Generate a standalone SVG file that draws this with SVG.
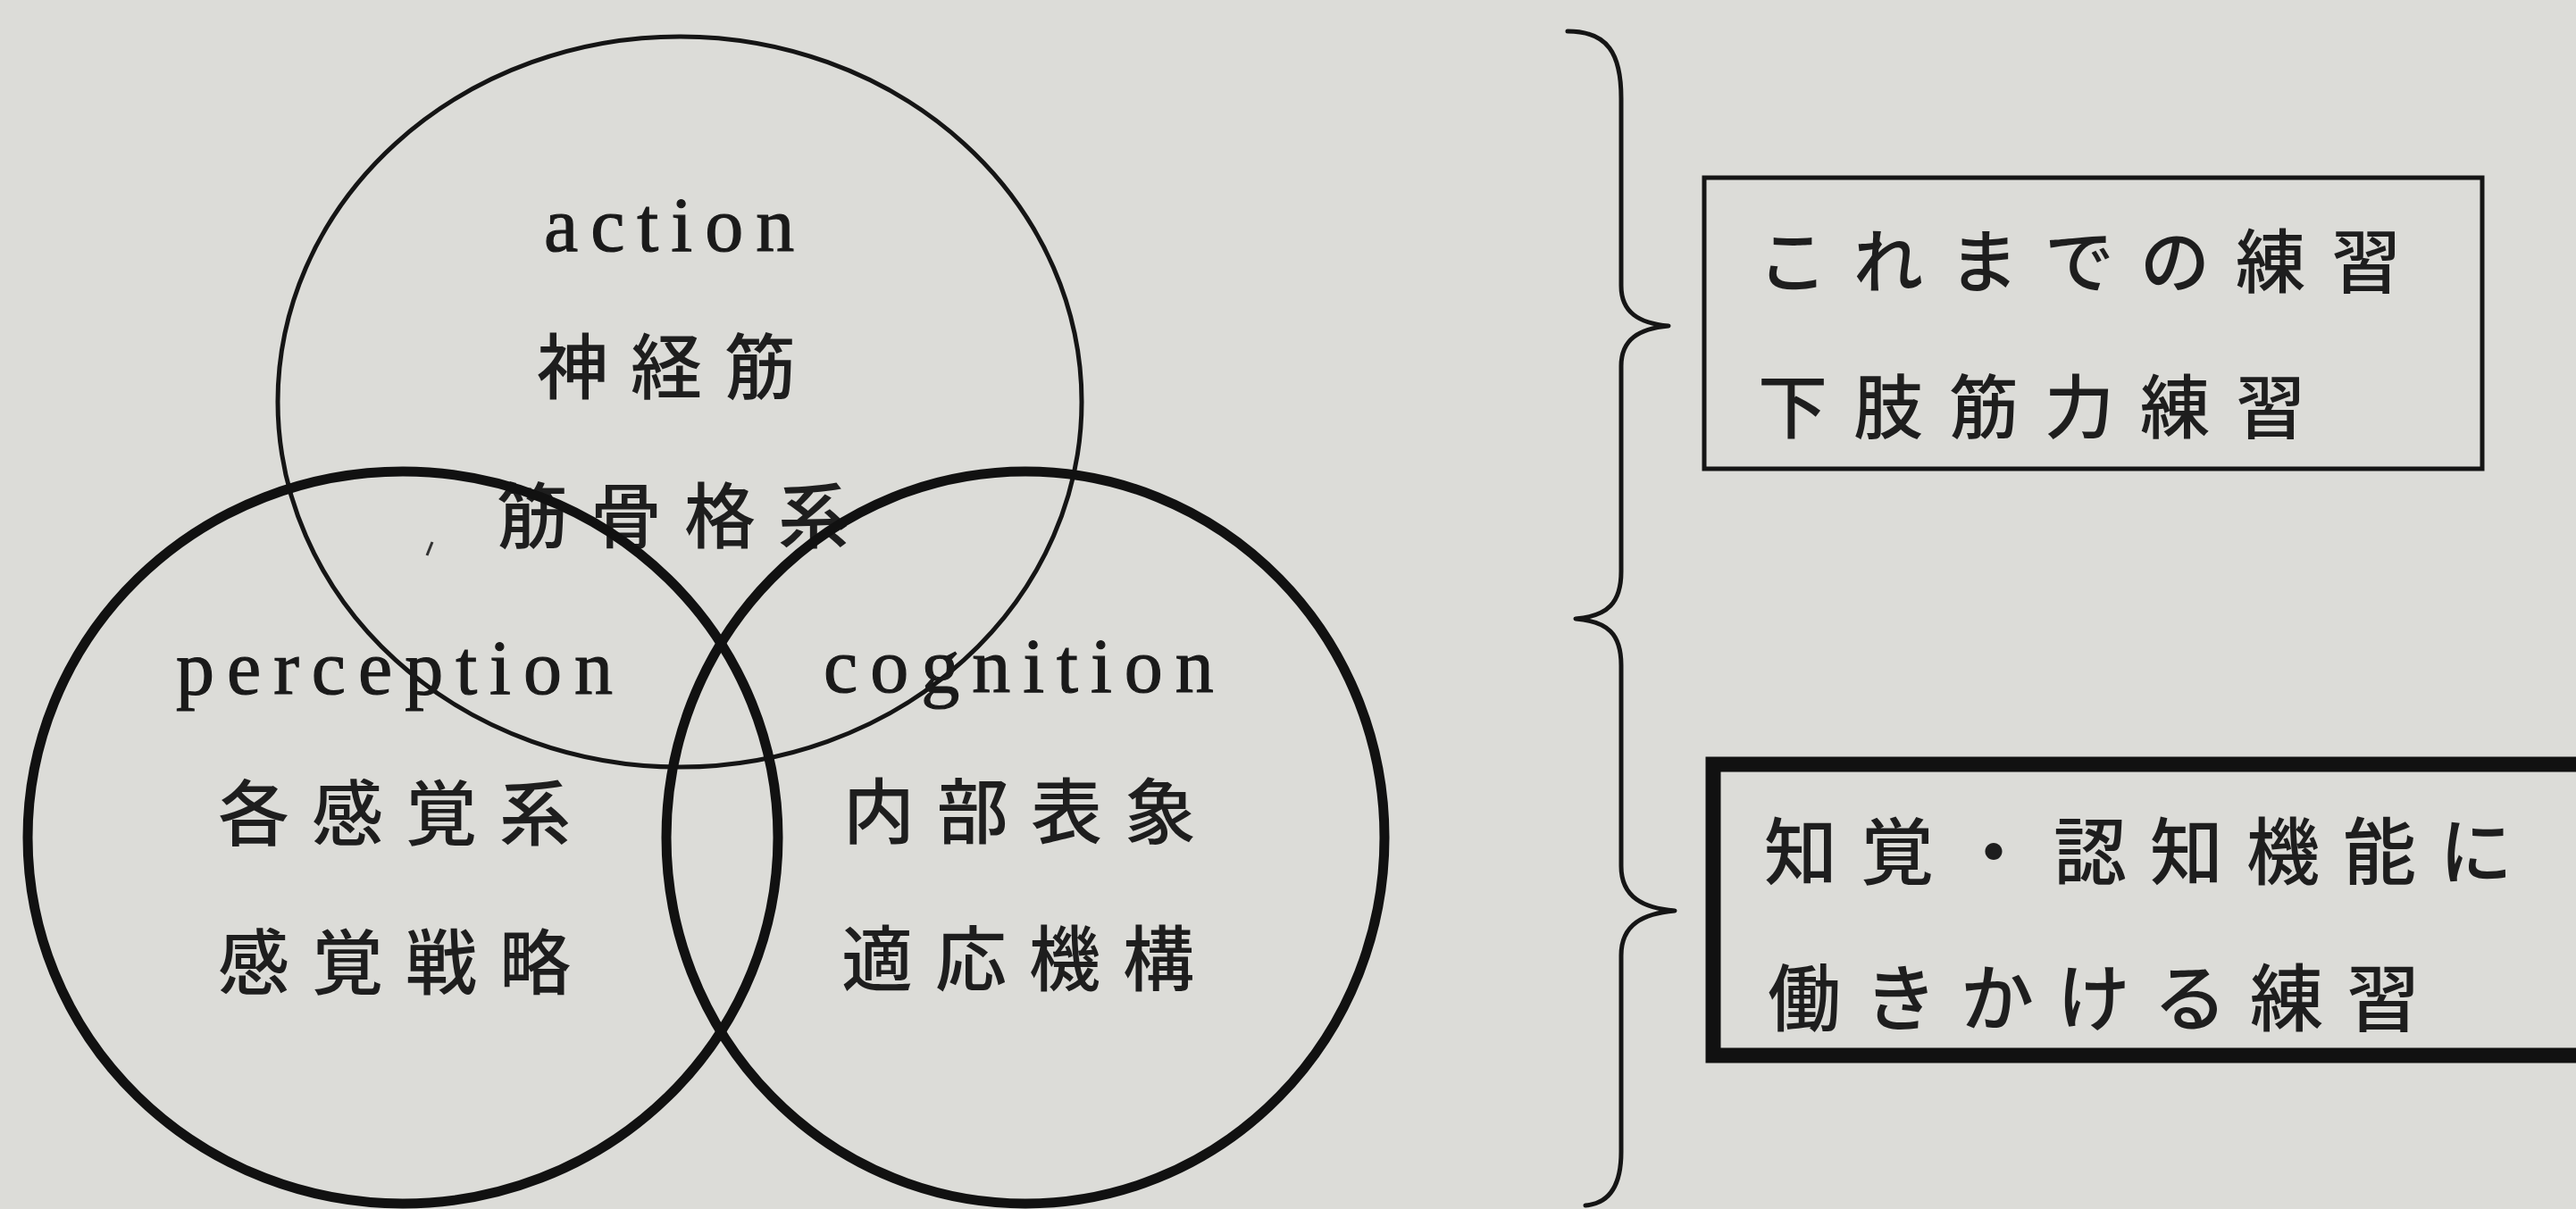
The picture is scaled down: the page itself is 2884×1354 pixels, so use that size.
<svg xmlns="http://www.w3.org/2000/svg" width="2884" height="1354" viewBox="0 0 2884 1354">
<style>
.bg{fill:#dcdcd8}
.thin{fill:none;stroke:#151515;stroke-width:5}
.thick{fill:none;stroke:#111;stroke-width:11}
.lat{font-family:"Liberation Serif","Times New Roman",serif;font-size:86px;letter-spacing:14px;fill:#1a1a1a;stroke:#1a1a1a;stroke-width:1.2}
.jp{font-family:"Noto Sans CJK JP","Noto Sans CJK SC",sans-serif;font-size:80px;font-weight:500;letter-spacing:25px;fill:#1e1e1e}
.jpb1{font-family:"Noto Sans CJK JP","Noto Sans CJK SC",sans-serif;font-size:78px;font-weight:500;letter-spacing:29px;fill:#1e1e1e}
.jpb2{font-family:"Noto Sans CJK JP","Noto Sans CJK SC",sans-serif;font-size:82px;font-weight:500;letter-spacing:26px;fill:#1e1e1e}
.brace{fill:none;stroke:#151515;stroke-width:5;stroke-linejoin:round;stroke-linecap:round}
</style>
<rect class="bg" x="0" y="0" width="2884" height="1354"/>
<g id="action">
<ellipse class="thin" cx="761" cy="450" rx="450" ry="409"/>
<text class="lat" x="609" y="281">action</text>
<text class="jp" x="601" y="440">神経筋</text>
<text class="jp" x="556" y="607">筋骨格系</text>
</g>
<g id="perception">
<ellipse class="thick" cx="451" cy="938" rx="420" ry="410"/>
<text class="lat" x="197" y="777">perception</text>
<text class="jp" x="244" y="940">各感覚系</text>
<text class="jp" x="244" y="1107">感覚戦略</text>
</g>
<g id="cognition">
<ellipse class="thick" cx="1148" cy="938" rx="402" ry="410"/>
<text class="lat" x="922" y="775">cognition</text>
<text class="jp" x="944" y="938">内部表象</text>
<text class="jp" x="942" y="1103">適応機構</text>
</g>
<path d="M484,607 L478,622" stroke="#333" stroke-width="3" fill="none"/>
<g id="connectors">
<path class="brace" d="M1755,35 C1800,35 1815,60 1815,110 L1815,320 C1815,350 1835,362 1868,365 C1835,368 1815,380 1815,410 L1815,640 C1815,675 1800,690 1764,693 C1800,696 1815,710 1815,745 L1815,970 C1815,1005 1840,1017 1875,1020 C1840,1023 1815,1035 1815,1070 L1815,1290 C1815,1330 1800,1348 1775,1350"/>
</g>
<g id="box-conventional">
<rect x="1908" y="199" width="871" height="326" fill="none" stroke="#151515" stroke-width="5"/>
<text class="jpb1" x="1968" y="322">これまでの練習</text>
<text class="jpb1" x="1968" y="485">下肢筋力練習</text>
</g>
<g id="box-cognitive">
<rect x="1918" y="856" width="1100" height="326" fill="none" stroke="#111" stroke-width="17"/>
<text class="jpb2" x="1975" y="984">知覚・認知機能に</text>
<text class="jpb2" x="1979" y="1148">働きかける練習</text>
</g>
</svg>
